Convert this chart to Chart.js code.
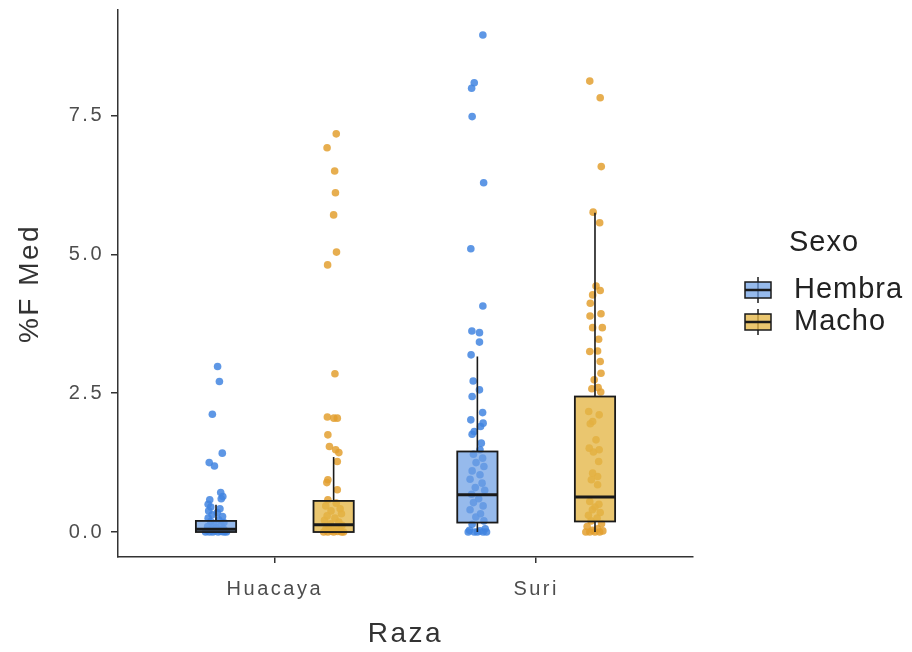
<!DOCTYPE html>
<html>
<head>
<meta charset="utf-8">
<script src="https://cdn.jsdelivr.net/npm/chart.js@4"></script>
<style>
  html, body { margin: 0; padding: 0; background: #fff; }
  #chart { display: block; }
</style>
</head>
<body>
<canvas id="chart" width="912" height="652"></canvas>
<script>
// categories and groups
const razas = ['Huacaya', 'Suri'];
const sexos = ['Hembra', 'Macho'];
const yTicks = [0, 2.5, 5, 7.5];

// box stats per raza: [lower whisker, q1, median, q3, upper whisker]
const boxHembra = [
  [0, 0.0, 0.05, 0.2, 0.49],
  [0, 0.17, 0.67, 1.45, 3.16]
];
const boxMacho = [
  [0, 0.0, 0.13, 0.56, 1.35],
  [0, 0.19, 0.63, 2.44, 5.75]
];

// jittered points: [x jitter, %F Med]
const huacayaHembra = [
  [0.006, 2.98], [0.013, 2.71], [-0.014, 2.12], [0.024, 1.42], [-0.026, 1.25], [-0.006, 1.19],
  [0.018, 0.71], [0.026, 0.64], [0.02, 0.6], [-0.024, 0.58], [-0.03, 0.5],
  [-0.02, 0.45], [0.015, 0.42], [-0.028, 0.38], [0.005, 0.35], [-0.015, 0.31], [0.025, 0.28],
  [-0.03, 0.25], [0.01, 0.22], [-0.02, 0.19], [0.03, 0.17], [-0.008, 0.14], [0.02, 0.12],
  [-0.032, 0.1], [0.0, 0.08], [0.028, 0.06], [-0.018, 0.05], [0.012, 0.04], [-0.035, 0.03],
  [0.035, 0.02], [-0.005, 0.02], [0.02, 0.01], [-0.025, 0.0], [0.008, 0.0], [0.03, 0.0],
  [-0.012, 0.0], [-0.04, 0.0], [0.04, 0.0]
];
const huacayaMacho = [
  [0.01, 7.17], [-0.025, 6.92], [0.004, 6.5], [0.007, 6.11], [0.0, 5.71], [0.011, 5.04],
  [-0.023, 4.81], [0.005, 2.85], [-0.024, 2.07], [0.001, 2.05], [0.014, 2.05], [-0.022, 1.75],
  [-0.016, 1.54], [0.008, 1.48], [0.02, 1.43], [0.014, 1.27], [-0.022, 0.94], [-0.026, 0.89],
  [0.014, 0.76], [-0.022, 0.58],
  [0.01, 0.52], [-0.03, 0.47], [0.025, 0.42], [-0.01, 0.38], [0.03, 0.33], [-0.025, 0.29],
  [0.005, 0.25], [-0.035, 0.21], [0.02, 0.18], [-0.012, 0.15], [0.032, 0.12], [-0.02, 0.09],
  [0.01, 0.07], [-0.03, 0.05], [0.025, 0.03], [-0.008, 0.02], [0.015, 0.01], [-0.022, 0.0],
  [0.0, 0.0], [0.03, 0.0], [-0.038, 0.0], [0.038, 0.0]
];
const suriHembra = [
  [0.021, 8.95], [-0.012, 8.09], [-0.022, 7.99], [-0.02, 7.48], [0.024, 6.29], [-0.025, 5.1],
  [0.021, 4.07], [-0.021, 3.62], [0.008, 3.59], [0.008, 3.42], [-0.024, 3.19], [-0.016, 2.72],
  [0.008, 2.56], [-0.02, 2.44], [0.02, 2.15], [-0.025, 2.02], [0.022, 1.96], [0.012, 1.9],
  [-0.012, 1.81], [-0.02, 1.76], [0.015, 1.6], [0.01, 1.48],
  [-0.015, 1.4], [0.02, 1.33], [-0.005, 1.25], [0.025, 1.18], [-0.02, 1.1], [0.01, 1.03],
  [-0.028, 0.95], [0.018, 0.88], [-0.008, 0.8], [0.028, 0.75], [-0.022, 0.68], [0.005, 0.6],
  [-0.015, 0.53], [0.022, 0.47], [-0.028, 0.4], [0.012, 0.33], [-0.006, 0.27], [0.025, 0.2],
  [-0.02, 0.14], [0.03, 0.06], [-0.03, 0.03], [0.01, 0.02], [-0.012, 0.0], [0.022, 0.0],
  [-0.035, 0.0], [0.035, 0.0], [0.0, 0.0]
];
const suriMacho = [
  [-0.02, 8.12], [0.02, 7.82], [0.024, 6.58], [-0.007, 5.76], [0.018, 5.57], [0.004, 4.43],
  [0.02, 4.35], [-0.009, 4.27], [-0.018, 4.12], [0.023, 3.93], [-0.019, 3.89], [0.028, 3.68],
  [-0.009, 3.68], [0.014, 3.47], [-0.02, 3.25], [0.01, 3.26], [0.02, 3.07], [0.023, 2.86],
  [-0.003, 2.74], [0.012, 2.6], [-0.012, 2.58], [0.022, 2.52],
  [-0.024, 2.17], [0.016, 2.11], [-0.009, 1.99], [-0.018, 1.95], [0.004, 1.66], [-0.022, 1.51],
  [0.016, 1.48], [-0.006, 1.44], [0.014, 1.27], [-0.009, 1.06], [0.01, 1.0], [-0.014, 0.94],
  [0.01, 0.85], [-0.02, 0.55], [0.015, 0.5], [0.0, 0.45], [-0.01, 0.4], [0.02, 0.35],
  [-0.025, 0.3], [0.008, 0.25], [-0.015, 0.2], [0.025, 0.15], [-0.03, 0.1], [0.01, 0.06],
  [-0.01, 0.03], [0.03, 0.02], [-0.02, 0.0], [0.0, 0.0], [0.018, 0.0], [-0.035, 0.0]
];

// styling
const pointColors = ['rgba(66,133,224,0.85)', 'rgba(227,160,48,0.85)'];
const boxFills = ['rgba(110,160,228,0.72)', 'rgba(228,182,70,0.78)'];
const dodge = 0.225;
const boxHalf = 0.077;
const fontFamily = '"Liberation Sans", Arial, sans-serif';

function toPoints(list, razaIdx, sexoIdx) {
  const center = razaIdx + 1 + (sexoIdx === 0 ? -dodge : dodge);
  return list.map(p => ({ x: center + p[0], y: p[1] }));
}

const boxStats = [boxHembra, boxMacho];

// draws the boxplots on top of the jitter using the chart scales
const boxPlugin = {
  id: 'boxes',
  beforeDraw(chart) {
    chart.ctx.letterSpacing = '2.5px';
  },
  afterDatasetsDraw(chart) {
    const ctx = chart.ctx;
    const xs = chart.scales.x;
    const ys = chart.scales.y;
    ctx.save();
    ctx.letterSpacing = '0px';
    boxStats.forEach((stats, s) => {
      stats.forEach((st, r) => {
        const c = r + 1 + (s === 0 ? -dodge : dodge);
        const xc = xs.getPixelForValue(c);
        const x0 = xs.getPixelForValue(c - boxHalf);
        const x1 = xs.getPixelForValue(c + boxHalf);
        const yLo = ys.getPixelForValue(st[0]);
        const yQ1 = ys.getPixelForValue(st[1]);
        const yMed = ys.getPixelForValue(st[2]);
        const yQ3 = ys.getPixelForValue(st[3]);
        const yHi = ys.getPixelForValue(st[4]);
        ctx.strokeStyle = '#1a1a1a';
        ctx.lineWidth = 1.6;
        ctx.beginPath();
        ctx.moveTo(xc, yQ3); ctx.lineTo(xc, yHi);
        ctx.moveTo(xc, yQ1); ctx.lineTo(xc, yLo);
        ctx.stroke();
        ctx.fillStyle = boxFills[s];
        ctx.fillRect(x0, yQ3, x1 - x0, yQ1 - yQ3);
        ctx.lineWidth = 1.8;
        ctx.strokeRect(x0, yQ3, x1 - x0, yQ1 - yQ3);
        ctx.lineWidth = 3;
        ctx.beginPath();
        ctx.moveTo(x0, yMed); ctx.lineTo(x1, yMed);
        ctx.stroke();
      });
    });
    ctx.restore();
  },
  afterDraw(chart) {
    const ctx = chart.ctx;
    ctx.save();
    ctx.letterSpacing = '1px';
    ctx.fillStyle = '#222';
    ctx.textBaseline = 'middle';
    ctx.textAlign = 'left';
    ctx.font = '29px ' + fontFamily;
    ctx.fillText('Sexo', 789, 243);
    const keyY = [290, 322];
    sexos.forEach((name, i) => {
      const cy = keyY[i];
      const x0 = 745, x1 = 771, xc = 758;
      ctx.strokeStyle = '#1a1a1a';
      ctx.lineWidth = 1.5;
      ctx.beginPath();
      ctx.moveTo(xc, cy - 13); ctx.lineTo(xc, cy + 13);
      ctx.stroke();
      ctx.fillStyle = boxFills[i];
      ctx.fillRect(x0, cy - 8, x1 - x0, 16);
      ctx.strokeRect(x0, cy - 8, x1 - x0, 16);
      ctx.lineWidth = 2.5;
      ctx.beginPath();
      ctx.moveTo(x0, cy); ctx.lineTo(x1, cy);
      ctx.stroke();
      ctx.fillStyle = '#222';
      ctx.fillText(name, 794, cy);
    });
    ctx.restore();
    ctx.letterSpacing = '0px';
  }
};

const datasets = sexos.map((name, s) => ({
  label: name,
  data: s === 0
    ? toPoints(huacayaHembra, 0, 0).concat(toPoints(suriHembra, 1, 0))
    : toPoints(huacayaMacho, 0, 1).concat(toPoints(suriMacho, 1, 1)),
  backgroundColor: pointColors[s],
  borderWidth: 0,
  pointRadius: 3.8,
  pointHoverRadius: 3.8
}));

new Chart(document.getElementById('chart'), {
  type: 'scatter',
  data: { datasets: datasets },
  options: {
    responsive: false,
    animation: false,
    layout: { padding: { top: 10, right: 219, left: 0, bottom: 0 } },
    plugins: {
      legend: { display: false },
      tooltip: { enabled: false }
    },
    scales: {
      x: {
        type: 'linear',
        min: 0.4,
        max: 2.6,
        afterFit: (scale) => {
          scale.height = 95;
          scale.paddingLeft = 0;
          scale.paddingRight = 0;
        },
        afterBuildTicks: (scale) => { scale.ticks = razas.map((r, i) => ({ value: i + 1 })); },
        ticks: {
          color: '#4d4d4d',
          font: { family: fontFamily, size: 20 },
          padding: 14,
          callback: (v) => razas[Math.round(v) - 1]
        },
        grid: { drawOnChartArea: false, tickLength: 6, color: '#333', lineWidth: 1.5 },
        border: { color: '#333', width: 1.5 },
        title: {
          display: true,
          text: 'Raza',
          color: '#333',
          font: { family: fontFamily, size: 28 },
          padding: { top: 0, bottom: 1 }
        }
      },
      y: {
        min: -0.45,
        max: 9.4,
        afterFit: (scale) => {
          scale.width = 118;
          scale.paddingTop = 0;
          scale.paddingBottom = 0;
        },
        afterBuildTicks: (scale) => { scale.ticks = yTicks.map(v => ({ value: v })); },
        ticks: {
          color: '#4d4d4d',
          font: { family: fontFamily, size: 20 },
          padding: 7,
          callback: (v) => v.toFixed(1)
        },
        grid: { drawOnChartArea: false, tickLength: 7, color: '#333', lineWidth: 1.5 },
        border: { color: '#333', width: 1.5 },
        title: {
          display: true,
          text: '%F Med',
          color: '#333',
          font: { family: fontFamily, size: 28 },
          padding: { top: 13, bottom: 0 }
        }
      }
    }
  },
  plugins: [boxPlugin]
});
</script>
</body>
</html>
